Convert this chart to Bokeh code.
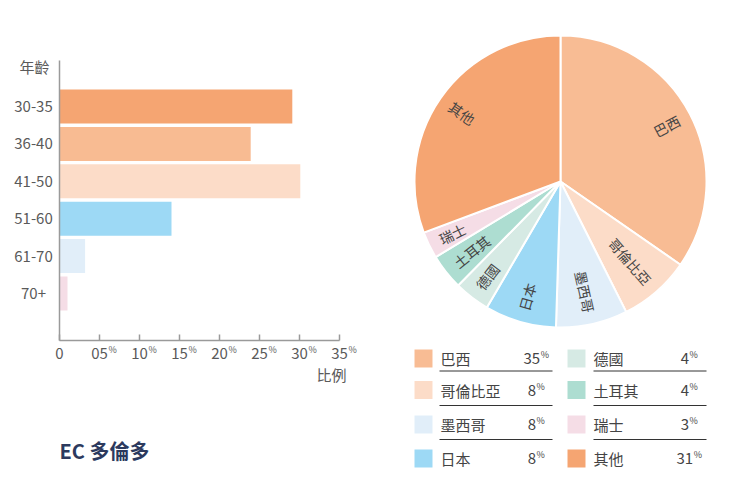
import math
from bokeh.plotting import figure
from bokeh.models import Range1d, ColumnDataSource
from bokeh.embed import file_html
from bokeh.resources import INLINE
from bokeh.core.properties import value

FONT = "Noto Sans CJK TC"

# ---------------- data ----------------
age_groups = ["30-35", "36-40", "41-50", "51-60", "61-70", "70+"]
age_share = [29.1, 23.9, 30.1, 14.0, 3.2, 1.0]
age_colors = ["#F5A572", "#F8BB92", "#FCDCC8", "#9DD9F5", "#E1EEF9", "#F5DDE6"]
x_ticks = [0, 5, 10, 15, 20, 25, 30, 35]
x_tick_labels = ["0", "05", "10", "15", "20", "25", "30", "35"]
x_tick_units = ["", "%", "%", "%", "%", "%", "%", "%"]

countries = ["巴西", "哥倫比亞", "墨西哥", "日本", "德國", "土耳其", "瑞士", "其他"]
country_share = [35, 8, 8, 8, 4, 4, 3, 31]
country_colors = ["#F8BC94", "#FCDCC8", "#E1EEF9", "#9DD9F5", "#D6EAE4", "#ADDDD1", "#F5DDE6", "#F5A572"]

title_text = "EC 多倫多"
y_title = "年齡"
x_title = "比例"

# ---------------- canvas (pixel-like default ranges) ----------------
W, H = 729, 500


def Y(py):
    return H - py


p = figure(width=W, height=H, x_range=Range1d(0, W), y_range=Range1d(0, H),
           output_backend="svg", toolbar_location=None, min_border=0)
p.axis.visible = False
p.xgrid.visible = False
p.ygrid.visible = False
p.outline_line_color = None
p.background_fill_color = "white"

# bar chart scales: percent on x, category index on y
AX_X0, PXU = 59, 8.0          # screen x of 0 %, px per percent
CAT0, ROWH = 106, 37.4        # screen y of first category, px per category
AX_TOP, AX_BOT = 60, 340
p.extra_x_ranges = {"pct": Range1d((0 - AX_X0) / PXU, (W - AX_X0) / PXU)}
p.extra_y_ranges = {"cat": Range1d((H - CAT0) / ROWH, (0 - CAT0) / ROWH)}

idx = list(range(len(age_groups)))
bsrc = ColumnDataSource(dict(y=idx, right=age_share, color=age_colors, label=age_groups))
p.hbar(y="y", left=0, right="right", height=0.91, fill_color="color", line_color=None,
       source=bsrc, x_range_name="pct", y_range_name="cat")

AXC = "#9a9a9a"
TXC = "#5a5a5a"
# y axis line
p.segment(x0=[0], y0=[Y(AX_TOP)], x1=[0], y1=[Y(AX_BOT)], line_color=AXC, line_width=1.5,
          x_range_name="pct")
# x axis line
p.segment(x0=[0], y0=[Y(AX_BOT)], x1=[x_ticks[-1]], y1=[Y(AX_BOT)], line_color=AXC,
          line_width=1.5, x_range_name="pct")
# ticks (inward)
tsrc = ColumnDataSource(dict(x=x_ticks, y0=[Y(AX_BOT)] * len(x_ticks), y1=[Y(AX_BOT - 6)] * len(x_ticks),
                             ly=[Y(AX_BOT + 13)] * len(x_ticks), uy=[Y(AX_BOT + 9)] * len(x_ticks),
                             t=x_tick_labels, u=x_tick_units))
p.segment(x0="x", y0="y0", x1="x", y1="y1", line_color=AXC, line_width=1.5, source=tsrc,
          x_range_name="pct")
p.text(x="x", y="ly", text="t", text_align="center", text_baseline="middle", text_font=value(FONT),
       text_font_size="15px", text_color=TXC, source=tsrc, x_range_name="pct")
p.text(x="x", y="uy", text="u", x_offset=9, text_align="left", text_baseline="middle",
       text_font=value(FONT), text_font_size="9px", text_color=TXC, source=tsrc,
       x_range_name="pct")
# category labels
p.text(x=[33] * len(idx), y=idx, text=age_groups, text_align="center", text_baseline="middle",
       text_font=value(FONT), text_font_size="15px", text_color=TXC, y_range_name="cat")
# axis titles & chart title
p.text(x=[34], y=[Y(66)], text=[y_title], text_align="center", text_baseline="middle",
       text_font=value(FONT), text_font_size="15px", text_color=TXC)
p.text(x=[331], y=[Y(374)], text=[x_title], text_align="center", text_baseline="middle",
       text_font=value(FONT), text_font_size="15px", text_color=TXC)
p.text(x=[59], y=[Y(450)], text=[title_text], text_align="left", text_baseline="middle",
       text_font=value(FONT), text_font_size="20px", text_font_style="bold", text_color="#2C3A5E")

# ---------------- pie ----------------
cx, cy, R = 560, Y(181), 146
total = float(sum(country_share))
starts, ends, mids = [], [], []
cum = 0.0
for v in country_share:
    a0 = cum / total * 360.0
    cum += v
    a1 = cum / total * 360.0
    starts.append(math.radians(90 - a0))
    ends.append(math.radians(90 - a1))
    mids.append((a0 + a1) / 2.0)

wsrc = ColumnDataSource(dict(s=starts, e=ends, c=country_colors))
p.wedge(x=cx, y=cy, radius=R, start_angle="s", end_angle="e", direction="clock",
        fill_color="c", line_color="white", line_width=2, source=wsrc)

RO = 134
tx, ty, ta, tal = [], [], [], []
for th in mids:
    tx.append(cx + RO * math.sin(math.radians(th)))
    ty.append(cy + RO * math.cos(math.radians(th)))
    if th < 180:
        ta.append(math.radians(90 - th))
        tal.append("right")
    else:
        ta.append(math.radians(270 - th))
        tal.append("left")
lsrc = ColumnDataSource(dict(x=tx, y=ty, a=ta, al=tal, t=countries))
p.text(x="x", y="y", text="t", angle="a", text_align="al", text_baseline="middle",
       text_font=value(FONT), text_font_size="14px", text_color="#444444", source=lsrc)

# ---------------- legend ----------------
row_y = [358, 389.5, 424, 458]
line_y = [370.5, 405, 439]
sw_x = [423, 576]
txt_x = [440, 593]
val_c = [535, 688]
ln_x = [(439, 552), (593, 706)]

sx, sy, lx, ly, vxr, vy, px_, py_, vt, pt = [], [], [], [], [], [], [], [], [], []
for k, (name, v) in enumerate(zip(countries, country_share)):
    col, r = k // 4, k % 4
    sx.append(sw_x[col])
    sy.append(Y(row_y[r]))
    lx.append(txt_x[col])
    ly.append(Y(row_y[r]))
    s = str(v)
    wn = len(s) * 8.2
    wp = 7.0
    left = val_c[col] - (wn + wp) / 2.0
    vxr.append(left + wn)
    vy.append(Y(row_y[r]))
    px_.append(left + wn + 0.5)
    py_.append(Y(row_y[r]) + 4)
    vt.append(s)
    pt.append("%")

gsrc = ColumnDataSource(dict(sx=sx, sy=sy, c=country_colors, lx=lx, ly=ly, name=countries,
                             vx=vxr, vy=vy, vt=vt, px=px_, py=py_, pt=pt))
p.rect(x="sx", y="sy", width=18, height=18, fill_color="c", line_color=None, source=gsrc)
p.text(x="lx", y="ly", text="name", text_align="left", text_baseline="middle",
       text_font=value(FONT), text_font_size="15px", text_color="#444444", source=gsrc)
p.text(x="vx", y="vy", text="vt", text_align="right", text_baseline="middle",
       text_font=value(FONT), text_font_size="15px", text_color="#444444", source=gsrc)
p.text(x="px", y="py", text="pt", text_align="left", text_baseline="middle",
       text_font=value(FONT), text_font_size="9px", text_color="#444444", source=gsrc)

x0s, x1s, ys = [], [], []
for col in range(2):
    for yy in line_y:
        x0s.append(ln_x[col][0])
        x1s.append(ln_x[col][1])
        ys.append(Y(yy))
p.segment(x0=x0s, y0=ys, x1=x1s, y1=ys, line_color="#333333", line_width=1)

open("out.html", "w").write(file_html(p, INLINE))
